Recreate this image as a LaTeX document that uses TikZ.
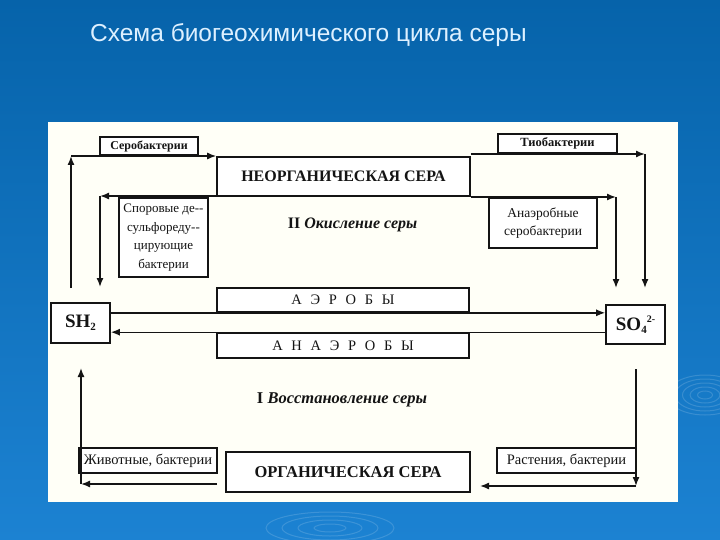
\documentclass[tikz,border=0pt]{standalone}
\usepackage{fontspec}
\setmainfont{Liberation Serif}
\newfontfamily\titlefont{Liberation Sans}
\usetikzlibrary{arrows.meta}
\definecolor{bgtop}{HTML}{0663AA}
\definecolor{bgbot}{HTML}{1C82D2}
\definecolor{titlecol}{HTML}{DDF0FF}
\definecolor{ink}{HTML}{141414}
\newcommand{\fsz}[1]{\fontsize{#1}{1.2\dimexpr #1pt\relax}\selectfont}
\begin{document}
\begin{tikzpicture}[x=1pt,y=-1pt,
  box/.style={draw=ink, line width=1.6pt, fill=white, inner sep=0pt, align=center, text=ink},
  arr/.style={draw=ink, line width=1.4pt, -{Latex[length=9pt,width=7pt]}},
  lbl/.style={inner sep=0pt, align=center, text=ink}]
\shade[top color=bgtop, bottom color=bgbot] (0,0) rectangle (720,540);
\useasboundingbox (0,0) rectangle (720,540);
% faint ripples of the background
\begin{scope}[draw=white, opacity=0.15, line width=1pt]
  \foreach \r in {5,10,15,20,25} \draw (705,395) ellipse ({\r*1.5} and {\r*0.8});
  \foreach \r in {8,16,24,32} \draw (330,528) ellipse ({\r*2} and {\r*0.5});
\end{scope}
% title
\node[anchor=base west, inner sep=0pt, text=titlecol, font=\titlefont\fsz{24.5}] (title) at (90,42) {Схема биогеохимического цикла серы};
% white panel
\fill[white!97!yellow] (48,122) rectangle (678,502);

% boxes
\node[box, minimum width=98pt, minimum height=18pt, font=\bfseries\fsz{12}] (serob) at (149,146) {Серобактерии};
\node[box, minimum width=253pt, minimum height=39pt, font=\bfseries\fsz{16}] (neorg) at (343.5,176.5) {НЕОРГАНИЧЕСКАЯ СЕРА};
\node[box, minimum width=89pt, minimum height=79pt, font=\fontsize{13}{18.5}\selectfont] (sporov) at (163.5,237.5) {Споровые де-{}-\\сульфореду-{}-\\цирующие\\бактерии};
\node[box, minimum width=119pt, minimum height=19pt, font=\bfseries\fsz{12.5}] (tiob) at (557.5,143.5) {Тиобактерии};
\node[box, minimum width=108pt, minimum height=50pt, font=\fontsize{13.5}{18}\selectfont] (anaer) at (543,223) {Анаэробные\\серобактерии};
\node[box, minimum width=252pt, minimum height=24pt, font=\fsz{14.5}] (aer) at (343,300) {А\hspace{0.6em}Э\hspace{0.6em}Р\hspace{0.6em}О\hspace{0.6em}Б\hspace{0.6em}Ы};
\node[box, minimum width=252pt, minimum height=25pt, font=\fsz{14.5}] (anaerob) at (343,345.5) {А\hspace{0.6em}Н\hspace{0.6em}А\hspace{0.6em}Э\hspace{0.6em}Р\hspace{0.6em}О\hspace{0.6em}Б\hspace{0.6em}Ы};
\node[box, minimum width=59pt, minimum height=40pt, font=\bfseries\fsz{19}] (sh2) at (80.5,323) {SH\raisebox{-3pt}{\fsz{11}2}};
\node[box, minimum width=59pt, minimum height=39pt, font=\bfseries\fsz{19}] (so4) at (635.5,324.5) {SO\raisebox{-3pt}{\fsz{11}4}\raisebox{8pt}{\fsz{10}2-}};
\node[box, minimum width=138pt, minimum height=25pt, font=\fsz{14.5}] (zhiv) at (148,460.5) {Животные, бактерии};
\node[box, minimum width=244pt, minimum height=40pt, font=\bfseries\fsz{16.5}] (org) at (348,472) {ОРГАНИЧЕСКАЯ СЕРА};
\node[box, minimum width=139pt, minimum height=25pt, font=\fsz{14.5}] (rast) at (566.5,460.5) {Растения, бактерии};

% section labels
\node[lbl, font=\bfseries\fsz{16}] (ox) at (352.5,225) {II \textit{Окисление серы}};
\node[lbl, font=\bfseries\fsz{16.5}] (red) at (342,400) {I \textit{Восстановление серы}};

% connector end points
\coordinate (a1) at (71,288);
\coordinate (a2) at (71,156);
\coordinate (b1) at (100,196);
\coordinate (b2) at (100,287);
\coordinate (c1) at (645,154);
\coordinate (c2) at (645,288);
\coordinate (d1) at (616,197);
\coordinate (d2) at (616,288);
\coordinate (e1) at (636,369);
\coordinate (e2) at (636,486);
\coordinate (e3) at (480,486);
\coordinate (f1) at (217,484);
\coordinate (f2) at (81,484);
\coordinate (f3) at (81,368);

% connectors
\draw[arr] (a1) -- (a2);
\draw[arr] (a2) -- (a2 -| neorg.west);
\draw[arr] (b1 -| neorg.west) -- (b1);
\draw[arr] (b1) -- (b2);
\draw[arr] (c1 -| neorg.east) -- (c1);
\draw[arr] (c1) -- (c2);
\draw[arr] (d1 -| neorg.east) -- (d1);
\draw[arr] (d1) -- (d2);
\draw[arr] (sh2.east |- aer.south) -- (so4.west |- aer.south);
\draw[arr] (so4.west |- anaerob.north) -- (sh2.east |- anaerob.north);
\draw[arr] (e1) -- (e2);
\draw[arr] (e2) -- (e3);
\draw[arr] (f1) -- (f2);
\draw[arr] (f2) -- (f3);
\end{tikzpicture}
\end{document}
